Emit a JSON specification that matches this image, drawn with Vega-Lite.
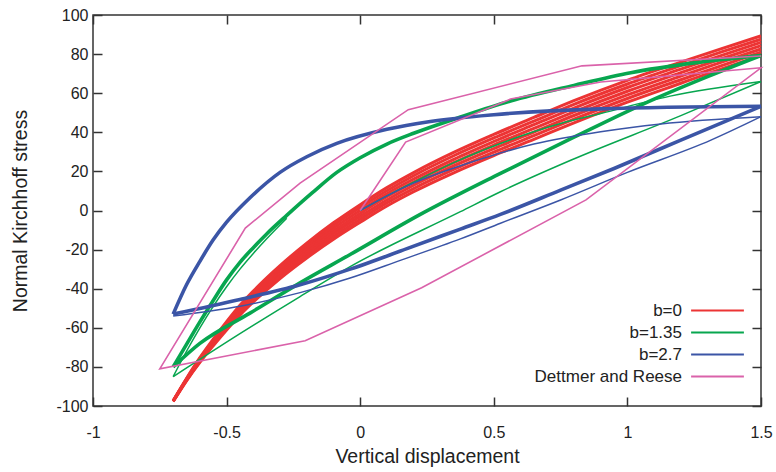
{
  "$schema": "https://vega.github.io/schema/vega-lite/v6.json",
  "width": 668,
  "height": 391,
  "autosize": "none",
  "padding": {"left": 93, "top": 15, "right": 15, "bottom": 66},
  "background": "white",
  "config": {
    "view": {"stroke": "#333333", "strokeWidth": 1.5},
    "font": "Liberation Sans",
    "axis": {
      "grid": false, "domain": false, "ticks": true,
      "tickColor": "#333333", "tickWidth": 1.5, "tickSize": -9,
      "labelFont": "Liberation Sans", "labelFontSize": 16, "labelColor": "#222222",
      "titleFont": "Liberation Sans", "titleFontSize": 19.5, "titleFontWeight": "normal", "titleColor": "#222222",
      "labelFlush": false
    },
    "legend": {
      "orient": "none", "legendX": 616, "legendY": 287, "padding": 0,
      "symbolType": "M-4.4,0L4.4,0", "symbolSize": 144, "symbolStrokeWidth": 2,
      "labelAlign": "right", "labelOffset": -44, "labelFont": "Liberation Sans",
      "labelFontSize": 17, "labelColor": "#222222", "rowPadding": 4, "labelLimit": 300
    }
  },
  "datasets": {
    "red": [
      {"s": "b=0", "x": -0.7, "r1": -97.7, "r2": -97.6, "r3": -97.6, "r4": -97.5, "r5": -97.4, "r6": -97.4, "r7": -97.3},
      {"s": "b=0", "x": -0.65, "r1": -87.1, "r2": -86.9, "r3": -86.7, "r4": -86.5, "r5": -86.3, "r6": -86.1, "r7": -85.9},
      {"s": "b=0", "x": -0.6, "r1": -77.7, "r2": -77.3, "r3": -76.9, "r4": -76.5, "r5": -76.1, "r6": -75.7, "r7": -75.3},
      {"s": "b=0", "x": -0.55, "r1": -69.2, "r2": -68.6, "r3": -68.1, "r4": -67.5, "r5": -66.9, "r6": -66.4, "r7": -65.8},
      {"s": "b=0", "x": -0.5, "r1": -61.1, "r2": -60.4, "r3": -59.7, "r4": -59.0, "r5": -58.3, "r6": -57.6, "r7": -56.9},
      {"s": "b=0", "x": -0.45, "r1": -53.5, "r2": -52.7, "r3": -51.8, "r4": -51.0, "r5": -50.2, "r6": -49.3, "r7": -48.5},
      {"s": "b=0", "x": -0.4, "r1": -46.8, "r2": -45.9, "r3": -44.9, "r4": -44.0, "r5": -43.1, "r6": -42.1, "r7": -41.2},
      {"s": "b=0", "x": -0.3, "r1": -34.8, "r2": -33.7, "r3": -32.6, "r4": -31.5, "r5": -30.4, "r6": -29.3, "r7": -28.2},
      {"s": "b=0", "x": -0.2, "r1": -24.3, "r2": -23.0, "r3": -21.8, "r4": -20.5, "r5": -19.2, "r6": -18.0, "r7": -16.7},
      {"s": "b=0", "x": -0.1, "r1": -14.7, "r2": -13.3, "r3": -11.9, "r4": -10.5, "r5": -9.1, "r6": -7.7, "r7": -6.3},
      {"s": "b=0", "x": 0.0, "r1": -6.0, "r2": -4.5, "r3": -3.0, "r4": -1.5, "r5": 0.0, "r6": 1.5, "r7": 3.0},
      {"s": "b=0", "x": 0.1, "r1": 2.3, "r2": 3.9, "r3": 5.4, "r4": 7.0, "r5": 8.6, "r6": 10.1, "r7": 11.7},
      {"s": "b=0", "x": 0.2, "r1": 9.6, "r2": 11.2, "r3": 12.9, "r4": 14.5, "r5": 16.1, "r6": 17.8, "r7": 19.4},
      {"s": "b=0", "x": 0.35, "r1": 19.3, "r2": 21.0, "r3": 22.8, "r4": 24.5, "r5": 26.2, "r6": 28.0, "r7": 29.7},
      {"s": "b=0", "x": 0.5, "r1": 28.1, "r2": 29.9, "r3": 31.7, "r4": 33.5, "r5": 35.3, "r6": 37.1, "r7": 38.9},
      {"s": "b=0", "x": 0.65, "r1": 36.4, "r2": 38.3, "r3": 40.1, "r4": 42.0, "r5": 43.9, "r6": 45.7, "r7": 47.6},
      {"s": "b=0", "x": 0.8, "r1": 44.8, "r2": 46.7, "r3": 48.6, "r4": 50.5, "r5": 52.4, "r6": 54.3, "r7": 56.2},
      {"s": "b=0", "x": 1.0, "r1": 55.4, "r2": 57.3, "r3": 59.1, "r4": 61.0, "r5": 62.9, "r6": 64.7, "r7": 66.6},
      {"s": "b=0", "x": 1.2, "r1": 65.1, "r2": 66.9, "r3": 68.7, "r4": 70.5, "r5": 72.3, "r6": 74.1, "r7": 75.9},
      {"s": "b=0", "x": 1.35, "r1": 72.3, "r2": 74.0, "r3": 75.8, "r4": 77.5, "r5": 79.2, "r6": 81.0, "r7": 82.7},
      {"s": "b=0", "x": 1.5, "r1": 79.3, "r2": 81.0, "r3": 82.6, "r4": 84.3, "r5": 86.0, "r6": 87.6, "r7": 89.3}
    ],
    "green": [
      {"s": "b=1.35", "p": "up", "w": "repeated", "x": -0.7, "y": -80},
      {"s": "b=1.35", "p": "up", "w": "repeated", "x": -0.65, "y": -68.5},
      {"s": "b=1.35", "p": "up", "w": "repeated", "x": -0.6, "y": -57},
      {"s": "b=1.35", "p": "up", "w": "repeated", "x": -0.55, "y": -46},
      {"s": "b=1.35", "p": "up", "w": "repeated", "x": -0.5, "y": -35.5},
      {"s": "b=1.35", "p": "up", "w": "repeated", "x": -0.45, "y": -26.5},
      {"s": "b=1.35", "p": "up", "w": "repeated", "x": -0.4, "y": -19},
      {"s": "b=1.35", "p": "up", "w": "repeated", "x": -0.35, "y": -12},
      {"s": "b=1.35", "p": "up", "w": "repeated", "x": -0.275, "y": -2.5},
      {"s": "b=1.35", "p": "up", "w": "repeated", "x": -0.18, "y": 9},
      {"s": "b=1.35", "p": "up", "w": "repeated", "x": -0.0875, "y": 19.5},
      {"s": "b=1.35", "p": "up", "w": "repeated", "x": 0.0, "y": 27},
      {"s": "b=1.35", "p": "up", "w": "repeated", "x": 0.1, "y": 34},
      {"s": "b=1.35", "p": "up", "w": "repeated", "x": 0.2, "y": 39.5},
      {"s": "b=1.35", "p": "up", "w": "repeated", "x": 0.375, "y": 47.8},
      {"s": "b=1.35", "p": "up", "w": "repeated", "x": 0.5625, "y": 56},
      {"s": "b=1.35", "p": "up", "w": "repeated", "x": 0.8, "y": 64},
      {"s": "b=1.35", "p": "up", "w": "repeated", "x": 1.0125, "y": 70.5},
      {"s": "b=1.35", "p": "up", "w": "repeated", "x": 1.25, "y": 75.5},
      {"s": "b=1.35", "p": "up", "w": "repeated", "x": 1.5, "y": 79.3},
      {"s": "b=1.35", "p": "down", "w": "repeated", "x": 1.5, "y": 79.3},
      {"s": "b=1.35", "p": "down", "w": "repeated", "x": 1.3, "y": 68.5},
      {"s": "b=1.35", "p": "down", "w": "repeated", "x": 1.1, "y": 57},
      {"s": "b=1.35", "p": "down", "w": "repeated", "x": 0.8, "y": 37.5},
      {"s": "b=1.35", "p": "down", "w": "repeated", "x": 0.525, "y": 19},
      {"s": "b=1.35", "p": "down", "w": "repeated", "x": 0.225, "y": -2},
      {"s": "b=1.35", "p": "down", "w": "repeated", "x": -0.0375, "y": -22.5},
      {"s": "b=1.35", "p": "down", "w": "repeated", "x": -0.225, "y": -37},
      {"s": "b=1.35", "p": "down", "w": "repeated", "x": -0.4125, "y": -52.5},
      {"s": "b=1.35", "p": "down", "w": "repeated", "x": -0.6, "y": -68},
      {"s": "b=1.35", "p": "down", "w": "repeated", "x": -0.7, "y": -80},
      {"s": "b=1.35", "p": "init", "w": "single", "x": 0.0, "y": 0},
      {"s": "b=1.35", "p": "init", "w": "single", "x": 0.1, "y": 7.5},
      {"s": "b=1.35", "p": "init", "w": "single", "x": 0.2, "y": 14.5},
      {"s": "b=1.35", "p": "init", "w": "single", "x": 0.35, "y": 24.5},
      {"s": "b=1.35", "p": "init", "w": "single", "x": 0.525, "y": 34.3},
      {"s": "b=1.35", "p": "init", "w": "single", "x": 0.75, "y": 44.5},
      {"s": "b=1.35", "p": "init", "w": "single", "x": 0.9, "y": 49.6},
      {"s": "b=1.35", "p": "init", "w": "single", "x": 1.16, "y": 58.5},
      {"s": "b=1.35", "p": "init", "w": "single", "x": 1.5, "y": 66},
      {"s": "b=1.35", "p": "unload", "w": "single", "x": 1.5, "y": 66},
      {"s": "b=1.35", "p": "unload", "w": "single", "x": 1.2, "y": 48.5},
      {"s": "b=1.35", "p": "unload", "w": "single", "x": 0.79, "y": 25.8},
      {"s": "b=1.35", "p": "unload", "w": "single", "x": 0.525, "y": 9.6},
      {"s": "b=1.35", "p": "unload", "w": "single", "x": 0.375, "y": -0.6},
      {"s": "b=1.35", "p": "unload", "w": "single", "x": -0.0375, "y": -28.7},
      {"s": "b=1.35", "p": "unload", "w": "single", "x": -0.225, "y": -44},
      {"s": "b=1.35", "p": "unload", "w": "single", "x": -0.45, "y": -63},
      {"s": "b=1.35", "p": "unload", "w": "single", "x": -0.7, "y": -85},
      {"s": "b=1.35", "p": "reload", "w": "single", "x": -0.7, "y": -85},
      {"s": "b=1.35", "p": "reload", "w": "single", "x": -0.65, "y": -72},
      {"s": "b=1.35", "p": "reload", "w": "single", "x": -0.6, "y": -60},
      {"s": "b=1.35", "p": "reload", "w": "single", "x": -0.55, "y": -49},
      {"s": "b=1.35", "p": "reload", "w": "single", "x": -0.5, "y": -39},
      {"s": "b=1.35", "p": "reload", "w": "single", "x": -0.45, "y": -30},
      {"s": "b=1.35", "p": "reload", "w": "single", "x": -0.4, "y": -22},
      {"s": "b=1.35", "p": "reload", "w": "single", "x": -0.35, "y": -14.5},
      {"s": "b=1.35", "p": "reload", "w": "single", "x": -0.275, "y": -4}
    ],
    "blue": [
      {"s": "b=2.7", "p": "init", "w": "single", "x": 0.0, "y": 0},
      {"s": "b=2.7", "p": "init", "w": "single", "x": 0.1, "y": 7.5},
      {"s": "b=2.7", "p": "init", "w": "single", "x": 0.2, "y": 14},
      {"s": "b=2.7", "p": "init", "w": "single", "x": 0.4, "y": 24},
      {"s": "b=2.7", "p": "init", "w": "single", "x": 0.65, "y": 34},
      {"s": "b=2.7", "p": "init", "w": "single", "x": 0.9, "y": 40.3},
      {"s": "b=2.7", "p": "init", "w": "single", "x": 1.125, "y": 44.3},
      {"s": "b=2.7", "p": "init", "w": "single", "x": 1.5, "y": 48},
      {"s": "b=2.7", "p": "unload", "w": "single", "x": 1.5, "y": 48},
      {"s": "b=2.7", "p": "unload", "w": "single", "x": 1.3125, "y": 36},
      {"s": "b=2.7", "p": "unload", "w": "single", "x": 1.0, "y": 19.5},
      {"s": "b=2.7", "p": "unload", "w": "single", "x": 0.75, "y": 5.4},
      {"s": "b=2.7", "p": "unload", "w": "single", "x": 0.525, "y": -6.5},
      {"s": "b=2.7", "p": "unload", "w": "single", "x": 0.375, "y": -14.5},
      {"s": "b=2.7", "p": "unload", "w": "single", "x": 0.15, "y": -25.5},
      {"s": "b=2.7", "p": "unload", "w": "single", "x": -0.0375, "y": -34.5},
      {"s": "b=2.7", "p": "unload", "w": "single", "x": -0.225, "y": -42},
      {"s": "b=2.7", "p": "unload", "w": "single", "x": -0.45, "y": -49},
      {"s": "b=2.7", "p": "unload", "w": "single", "x": -0.7, "y": -54},
      {"s": "b=2.7", "p": "up", "w": "repeated", "x": -0.7, "y": -53},
      {"s": "b=2.7", "p": "up", "w": "repeated", "x": -0.65, "y": -38},
      {"s": "b=2.7", "p": "up", "w": "repeated", "x": -0.6, "y": -26},
      {"s": "b=2.7", "p": "up", "w": "repeated", "x": -0.55, "y": -15},
      {"s": "b=2.7", "p": "up", "w": "repeated", "x": -0.5, "y": -6},
      {"s": "b=2.7", "p": "up", "w": "repeated", "x": -0.4125, "y": 6.5},
      {"s": "b=2.7", "p": "up", "w": "repeated", "x": -0.3, "y": 19.5},
      {"s": "b=2.7", "p": "up", "w": "repeated", "x": -0.2, "y": 27.5},
      {"s": "b=2.7", "p": "up", "w": "repeated", "x": -0.0875, "y": 34.3},
      {"s": "b=2.7", "p": "up", "w": "repeated", "x": 0.1, "y": 41.5},
      {"s": "b=2.7", "p": "up", "w": "repeated", "x": 0.2625, "y": 45.5},
      {"s": "b=2.7", "p": "up", "w": "repeated", "x": 0.5, "y": 49},
      {"s": "b=2.7", "p": "up", "w": "repeated", "x": 0.9, "y": 52},
      {"s": "b=2.7", "p": "up", "w": "repeated", "x": 1.5, "y": 53.3},
      {"s": "b=2.7", "p": "down", "w": "repeated", "x": 1.5, "y": 53.3},
      {"s": "b=2.7", "p": "down", "w": "repeated", "x": 1.2, "y": 36},
      {"s": "b=2.7", "p": "down", "w": "repeated", "x": 0.95, "y": 21.5},
      {"s": "b=2.7", "p": "down", "w": "repeated", "x": 0.75, "y": 10.4},
      {"s": "b=2.7", "p": "down", "w": "repeated", "x": 0.525, "y": -2},
      {"s": "b=2.7", "p": "down", "w": "repeated", "x": 0.375, "y": -9.5},
      {"s": "b=2.7", "p": "down", "w": "repeated", "x": 0.175, "y": -19.5},
      {"s": "b=2.7", "p": "down", "w": "repeated", "x": -0.0375, "y": -30},
      {"s": "b=2.7", "p": "down", "w": "repeated", "x": -0.225, "y": -38},
      {"s": "b=2.7", "p": "down", "w": "repeated", "x": -0.45, "y": -45.5},
      {"s": "b=2.7", "p": "down", "w": "repeated", "x": -0.7, "y": -53}
    ],
    "pink": [
      {"s": "Dettmer and Reese", "i": 0, "x": 0.0, "y": 0},
      {"s": "Dettmer and Reese", "i": 1, "x": 0.17, "y": 35},
      {"s": "Dettmer and Reese", "i": 2, "x": 0.5625, "y": 57},
      {"s": "Dettmer and Reese", "i": 3, "x": 0.9, "y": 65.7},
      {"s": "Dettmer and Reese", "i": 4, "x": 1.5, "y": 73},
      {"s": "Dettmer and Reese", "i": 5, "x": 0.845, "y": 5.4},
      {"s": "Dettmer and Reese", "i": 6, "x": 0.23, "y": -39.5},
      {"s": "Dettmer and Reese", "i": 7, "x": -0.206, "y": -66.6},
      {"s": "Dettmer and Reese", "i": 8, "x": -0.75, "y": -81},
      {"s": "Dettmer and Reese", "i": 9, "x": -0.43, "y": -9},
      {"s": "Dettmer and Reese", "i": 10, "x": -0.225, "y": 14},
      {"s": "Dettmer and Reese", "i": 11, "x": 0.18, "y": 51.6},
      {"s": "Dettmer and Reese", "i": 12, "x": 0.83, "y": 74},
      {"s": "Dettmer and Reese", "i": 13, "x": 1.5, "y": 79}
    ]
  },
  "layer": [
    {
      "data": {"name": "red"},
      "transform": [{"fold": ["r1", "r2", "r3", "r4", "r5", "r6", "r7"], "as": ["p", "y"]}],
      "mark": {"type": "line", "interpolate": "monotone", "strokeWidth": 3},
      "encoding": {
        "x": {"field": "x", "type": "quantitative", "scale": {"domain": [-1, 1.5], "nice": false, "zero": false},
              "axis": {"title": "Vertical displacement", "values": [-1, -0.5, 0, 0.5, 1, 1.5], "labelExpr": "'' + datum.value", "labelPadding": 27, "titlePadding": 7}},
        "y": {"field": "y", "type": "quantitative", "scale": {"domain": [-100, 100], "nice": false, "zero": false},
              "axis": {"title": "Normal Kirchhoff stress", "values": [-100, -80, -60, -40, -20, 0, 20, 40, 60, 80, 100], "labelExpr": "'' + datum.value", "labelPadding": 14, "titlePadding": 25}},
        "color": {"field": "s", "type": "nominal", "title": null,
                  "scale": {"domain": ["b=0", "b=1.35", "b=2.7", "Dettmer and Reese"], "range": ["#ec3434", "#07a64f", "#3b55a6", "#da62aa"]},
                  "legend": {"encode": {"symbols": {"update": {"strokeWidth": {"value": 2}, "fill": {"value": "transparent"}}}}}},
        "detail": {"field": "p"}
      }
    },
    {
      "data": {"name": "green"},
      "mark": {"type": "line", "interpolate": "monotone"},
      "encoding": {
        "x": {"field": "x", "type": "quantitative", "axis": null},
        "y": {"field": "y", "type": "quantitative", "axis": null},
        "color": {"field": "s", "type": "nominal"},
        "strokeWidth": {"field": "w", "type": "ordinal", "scale": {"domain": ["single", "repeated"], "range": [1.5, 3.6]}, "legend": null},
        "detail": {"field": "p"}
      }
    },
    {
      "data": {"name": "blue"},
      "mark": {"type": "line", "interpolate": "monotone"},
      "encoding": {
        "x": {"field": "x", "type": "quantitative", "axis": null},
        "y": {"field": "y", "type": "quantitative", "axis": null},
        "color": {"field": "s", "type": "nominal"},
        "strokeWidth": {"field": "w", "type": "ordinal", "scale": {"domain": ["single", "repeated"], "range": [1.5, 3.6]}, "legend": null},
        "detail": {"field": "p"}
      }
    },
    {
      "data": {"name": "pink"},
      "mark": {"type": "line", "interpolate": "linear", "strokeWidth": 1.6},
      "encoding": {
        "x": {"field": "x", "type": "quantitative",
              "axis": {"orient": "top", "labels": false, "title": null, "values": [-1, -0.5, 0, 0.5, 1, 1.5]}},
        "y": {"field": "y", "type": "quantitative",
              "axis": {"orient": "right", "labels": false, "title": null, "values": [-100, -80, -60, -40, -20, 0, 20, 40, 60, 80, 100]}},
        "color": {"field": "s", "type": "nominal"},
        "order": {"field": "i", "type": "quantitative"}
      }
    }
  ],
  "resolve": {"axis": {"x": "independent", "y": "independent"}}
}
